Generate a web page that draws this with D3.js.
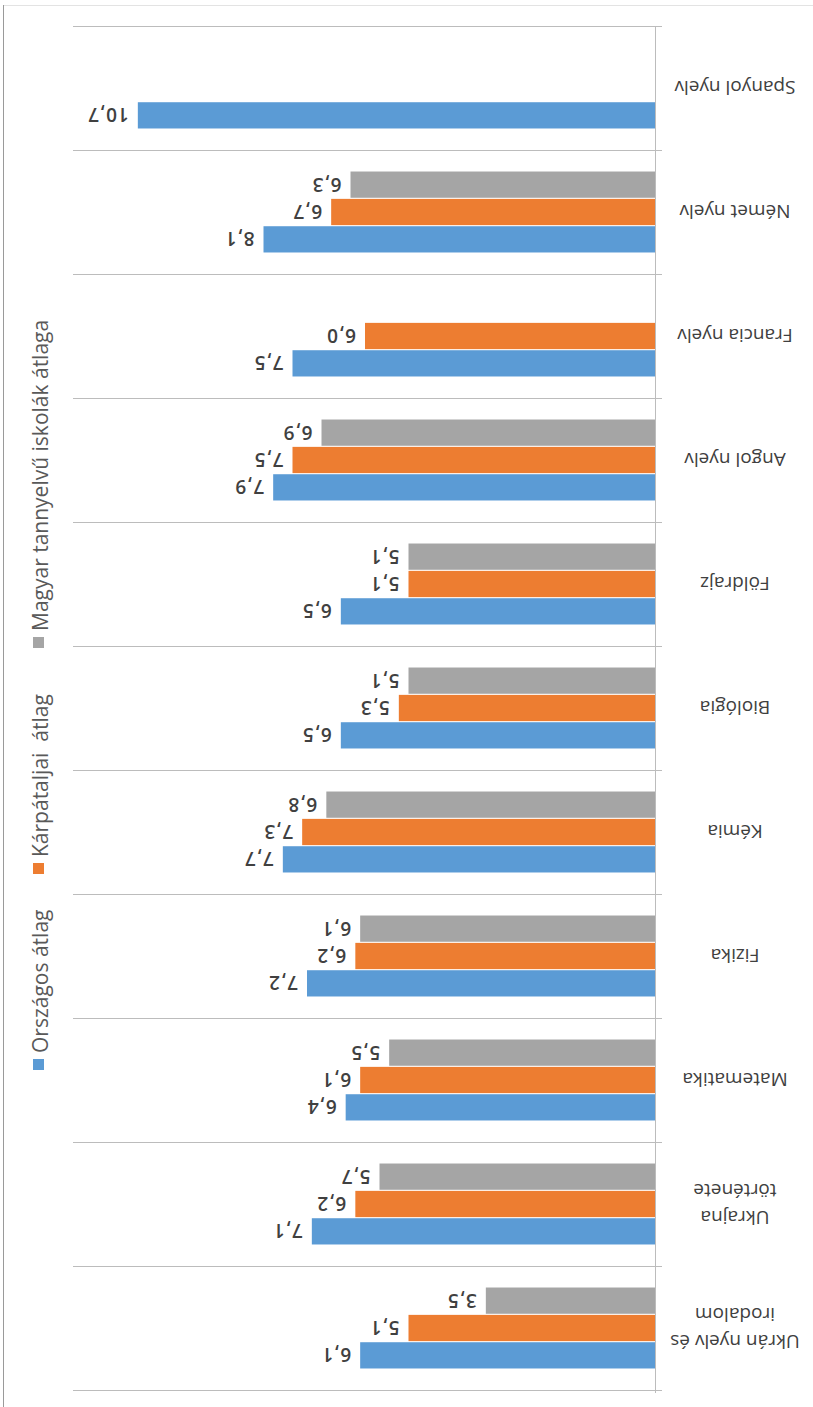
<!DOCTYPE html>
<html><head><meta charset="utf-8">
<script src="https://cdn.jsdelivr.net/npm/d3@7"></script>
<style>body{margin:0;background:#fff}svg{display:block}</style>
</head><body><div id="chart"></div>
<script>
// Data in original (unrotated) order
const categories = ["Ukrán nyelv és|irodalom","Ukrajna|története","Matematika","Fizika","Kémia","Biológia","Földrajz","Angol nyelv","Francia nyelv","Német nyelv","Spanyol nyelv"];
const seriesNames = ["Országos átlag","Kárpátaljai  átlag","Magyar tannyelvű iskolák átlaga"];
const orszagos   = [6.1, 7.1, 6.4, 7.2, 7.7, 6.5, 6.5, 7.9, 7.5, 8.1, 10.7];
const karpataljai= [5.1, 6.2, 6.1, 6.2, 7.3, 5.3, 5.1, 7.5, 6.0, 6.7, null];
const magyar     = [3.5, 5.7, 5.5, 6.1, 6.8, 5.1, 5.1, 6.9, null, 6.3, null];
const colors = ["#5B9BD5","#ED7D31","#A5A5A5"];
const valueDomain = [0, 12];

(function(){
const W = 813, H = 1407;
const svg = d3.select("#chart").append("svg").attr("width", W).attr("height", H);
const FONT = "'Open Sans', sans-serif";

// frame
svg.append("line").attr("x1",3).attr("x2",W).attr("y1",5.5).attr("y2",5.5).attr("stroke","#e3e3e3");
svg.append("line").attr("x1",3.5).attr("x2",3.5).attr("y1",5).attr("y2",H).attr("stroke","#9a9a9a");

const axisX = 655, plotLeft = 75, plotTop = 26, plotBottom = 1390;
const x = d3.scaleLinear().domain(valueDomain).range([axisX, plotLeft]);
const y0 = d3.scaleBand().domain(categories).range([plotBottom, plotTop]).paddingInner(0.347).paddingOuter(0.1735);
const y1 = d3.scaleBand().domain([0,1,2]).range([y0.bandwidth(), 0]).paddingInner(0.04);
const step = y0.step();

// gridlines (category separators)
const sepYs = categories.map(c => y0(c) + y0.bandwidth() + (step - y0.bandwidth())/2).concat([plotTop]);
svg.append("g").selectAll("line").data(sepYs).join("line")
  .attr("x1", plotLeft-2).attr("x2", axisX+7)
  .attr("y1", d => Math.round(d)+0.5).attr("y2", d => Math.round(d)+0.5)
  .attr("stroke", "#bcbcbc").attr("stroke-width", 1);
svg.append("line").attr("x1", axisX+0.5).attr("x2", axisX+0.5).attr("y1", plotTop).attr("y2", plotBottom+3)
  .attr("stroke", "#bcbcbc");

const series = [orszagos, karpataljai, magyar];
const rows = [];
categories.forEach((c, i) => series.forEach((s, k) => { if (s[i] != null) rows.push({c, k, v: s[i]}); }));

const g = svg.append("g");
g.selectAll("rect").data(rows).join("rect")
  .attr("x", d => x(d.v)).attr("width", d => axisX - x(d.v))
  .attr("y", d => y0(d.c) + y1(d.k)).attr("height", y1.bandwidth())
  .attr("fill", d => colors[d.k]);

// value labels (upside down)
g.selectAll("text.val").data(rows).join("text").attr("class","val")
  .attr("transform", d => `translate(${x(d.v)-9},${y0(d.c)+y1(d.k)+y1.bandwidth()/2}) rotate(180)`)
  .attr("text-anchor","start").attr("dominant-baseline","central")
  .attr("font-family", FONT).attr("font-size", 19).attr("font-weight", 600)
  .attr("letter-spacing", 1).attr("fill","#404040")
  .text(d => d3.format(".1f")(d.v).replace(".", ","));

// category labels (upside down)
const lh = 27;
categories.forEach(c => {
  const lines = c.split("|");
  const cy = y0(c) + y0.bandwidth()/2;
  const t = svg.append("text")
    .attr("transform", `translate(735,${cy}) rotate(180)`)
    .attr("text-anchor","middle").attr("font-family", FONT).attr("font-size", 19).attr("fill","#404040");
  lines.forEach((ln, i) => {
    t.append("tspan").attr("x", 0).attr("y", (i - (lines.length-1)/2) * lh)
      .attr("dominant-baseline","central").text(ln);
  });
});

// legend (rotated -90, reading bottom to top)
const legendStarts = [1070, 874, 648];
seriesNames.forEach((n, k) => {
  const s = legendStarts[k];
  svg.append("rect").attr("x", 33).attr("y", s-11).attr("width", 11).attr("height", 11).attr("fill", colors[k]);
  svg.append("text").attr("transform", `translate(48,${s-17}) rotate(-90)`)
    .attr("text-anchor","start").attr("font-family", FONT).attr("font-size", 21).attr("fill","#595959")
    .style("white-space","pre").text(n);
});
})();
</script></body></html>
